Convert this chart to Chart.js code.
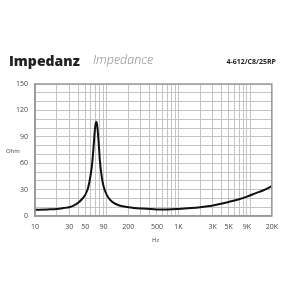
<!DOCTYPE html>
<html>
<head>
<meta charset="utf-8">
<script src="https://cdn.jsdelivr.net/npm/chart.js@4"></script>
<style>
  body { margin: 0; background: #fff; }
  #wrap { position: relative; width: 285px; height: 300px; font-family: "Open Sans", sans-serif; }
  .t { position: absolute; white-space: nowrap; }
  #title { left: 9px; top: 51px; font-size: 14px; font-weight: 800; color: #222; }
  #sub { left: 93px; top: 51px; font-size: 12.5px; font-style: italic; font-weight: 300; color: #888; }
  #model { right: 9px; top: 57px; font-size: 7px; font-weight: 700; color: #222; }
  #ohm { left: 6px; top: 147px; font-size: 6px; color: #444; }
  #hz { left: 152px; top: 236px; font-size: 6px; color: #444; }
</style>
</head>
<body>
<div id="wrap">
  <canvas id="impedanceChart" width="285" height="300"></canvas>
  <div class="t" id="title">Impedanz</div>
  <div class="t" id="sub">Impedance</div>
  <div class="t" id="model">4-612/C8/25RP</div>
  <div class="t" id="ohm">Ohm</div>
  <div class="t" id="hz">Hz</div>
</div>
<script>
// Impedance curve (Hz, Ohm)
const freqs = [10, 15, 20, 25, 30, 35, 40, 45, 50, 55, 60, 63, 66, 68, 70, 71.5, 73, 75, 78, 80, 85, 90, 100, 110, 125, 150, 200, 300, 500, 700, 1000, 1500, 2000, 3000, 5000, 7000, 9000, 12000, 15000, 18000, 20000];
const ohms = [7, 7.5, 8, 9, 10, 12, 15, 19, 24, 32, 48, 62, 82, 96, 105, 107, 105, 96, 78, 64, 45, 34, 24, 19, 15, 12, 10, 8.5, 7.5, 7.5, 8, 9, 10, 12, 16, 19, 22, 26, 29, 32, 34];

// Grid lines on the frequency axis and which ones get a label
const gridFreqs = [10, 20, 30, 40, 50, 60, 70, 80, 90, 100, 200, 300, 400, 500, 600, 700, 800, 900, 1000,
  2000, 3000, 4000, 5000, 6000, 7000, 8000, 9000, 10000, 20000];
const tickFreqs = [10, 30, 50, 90, 200, 500, 1000, 3000, 5000, 9000, 20000];
const tickLabels = ['10', '30', '50', '90', '200', '500', '1K', '3K', '5K', '9K', '20K'];

const ctx = document.getElementById('impedanceChart').getContext('2d');

new Chart(ctx, {
  type: 'line',
  data: {
    datasets: [{
      data: freqs.map((f, i) => ({ x: f, y: ohms[i] })),
      borderColor: '#111',
      borderWidth: 2,
      pointRadius: 0,
      fill: false,
      cubicInterpolationMode: 'monotone',
    }]
  },
  options: {
    responsive: false,
    animation: false,
    layout: { padding: { left: 0, top: 84, right: 9, bottom: 64 } },
    plugins: { legend: { display: false }, tooltip: { enabled: false } },
    scales: {
      x: {
        type: 'logarithmic',
        min: 10,
        max: 20000,
        afterBuildTicks: (scale) => { scale.ticks = gridFreqs.map(v => ({ value: v })); },
        afterFit: (scale) => { scale.height = 20; },
        grid: { color: '#c4c4c4', lineWidth: 1, drawTicks: false },
        border: { color: '#999', width: 1.5 },
        ticks: {
          autoSkip: false,
          maxRotation: 0,
          padding: 7,
          color: '#444',
          font: { family: 'Open Sans', size: 7 },
          callback: function(value) {
            const i = tickFreqs.indexOf(value);
            return i >= 0 ? tickLabels[i] : '';
          }
        }
      },
      y: {
        min: 0,
        max: 150,
        afterFit: (scale) => { scale.width = 35; },
        grid: { color: '#c4c4c4', lineWidth: 1, drawTicks: false },
        border: { color: '#999', width: 1.5 },
        ticks: {
          autoSkip: false,
          stepSize: 10,
          padding: 7,
          color: '#444',
          font: { family: 'Open Sans', size: 7 },
          callback: function(value) {
            return value % 30 === 0 ? value : '';
          }
        }
      }
    }
  },
  plugins: [{
    // close the frame on the top and right
    id: 'frame',
    afterDraw(chart) {
      const a = chart.chartArea;
      const c = chart.ctx;
      c.save();
      c.strokeStyle = '#999';
      c.lineWidth = 1.5;
      c.strokeRect(a.left, a.top, a.right - a.left, a.bottom - a.top);
      c.restore();
    }
  }]
});
</script>
</body>
</html>
